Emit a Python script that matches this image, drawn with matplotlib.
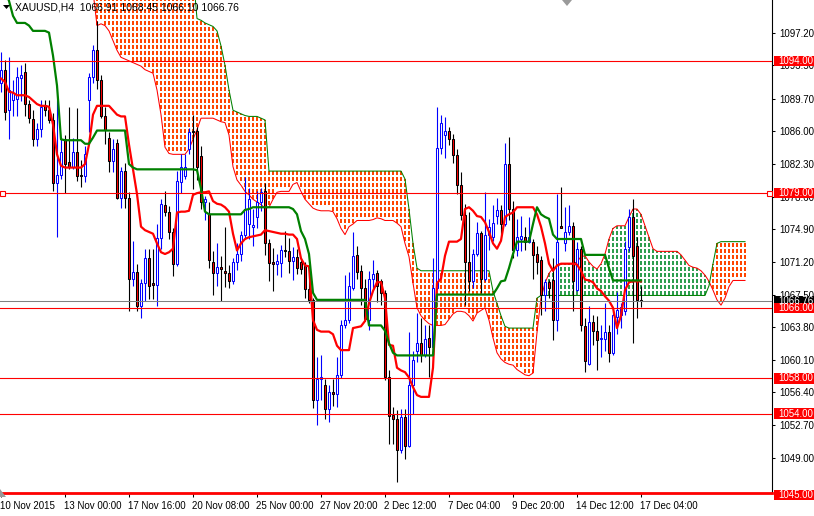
import matplotlib
matplotlib.use("Agg")
import matplotlib.pyplot as plt
import matplotlib.transforms as mtransforms
from matplotlib.collections import PolyCollection
from matplotlib.patches import Polygon, Rectangle
import numpy as np

# Chart look (MT4 style)
BULL_EDGE = '#0000ff'
BULL_FACE = 'white'
BEAR_EDGE = 'black'
BEAR_FACE = '#ff0000'
TENKAN_COLOR = '#ff0000'
KIJUN_COLOR = '#008000'
SPAN_A_COLOR = '#ff0000'
SPAN_B_COLOR = '#008000'
CLOUD_BEAR = '#ff4500'
CLOUD_BULL = '#2e9e4f'
LEVEL_COLOR = '#ff0000'
BID_COLOR = '#808080'
plt.rcParams['font.family'] = ['Liberation Sans', 'DejaVu Sans']
plt.rcParams['font.size'] = 7

W, H = 814, 516
PLOT_RIGHT = 772
PLOT_BOTTOM = 493

# XAUUSD H4 candles, 10 Nov 2015 08:00 .. 17 Dec 2015
opens = [
    1091.5, 1093.0, 1088.4, 1089.6, 1089.7, 1092.0, 1092.7, 1089.1, 1087.4, 1085.1,
    1086.3, 1089.0, 1088.4, 1087.3, 1080.1, 1081.1, 1085.1, 1082.5, 1082.0, 1083.7,
    1081.1, 1080.9, 1089.6, 1092.2, 1095.2, 1091.8, 1087.7, 1085.2, 1082.6, 1084.7,
    1078.4, 1081.5, 1078.4, 1069.3, 1070.1, 1066.2, 1068.8, 1071.6, 1068.8, 1068.6,
    1073.9, 1077.7, 1076.9, 1074.6, 1071.0, 1080.3, 1080.9, 1084.0, 1086.0, 1086.0,
    1083.2, 1078.0, 1076.6, 1071.2, 1069.9, 1070.6, 1070.2, 1069.9, 1069.0, 1071.2,
    1072.1, 1074.2, 1075.5, 1075.2, 1076.3, 1078.0, 1079.2, 1073.3, 1071.2, 1071.0,
    1071.1, 1072.6, 1072.4, 1071.3, 1071.8, 1071.2, 1070.7, 1068.1, 1066.9, 1055.5,
    1057.9, 1057.2, 1054.5, 1056.5, 1056.2, 1058.4, 1064.0, 1064.6, 1068.2, 1072.0,
    1070.2, 1068.3, 1064.6, 1069.3, 1069.9, 1069.0, 1067.7, 1058.2, 1053.8, 1053.4,
    1049.9, 1053.6, 1050.3, 1057.3, 1061.1, 1062.0, 1060.7, 1062.6, 1061.5, 1068.3,
    1084.1, 1085.6, 1086.0, 1085.1, 1083.3, 1079.9, 1076.5, 1071.2, 1069.0, 1072.1,
    1074.5, 1069.3, 1074.2, 1074.0, 1076.4, 1077.1, 1075.5, 1082.3, 1077.2, 1072.5,
    1073.8, 1074.0, 1073.5, 1073.5, 1072.1, 1071.4, 1067.4, 1068.9, 1069.1, 1064.6,
    1075.3, 1073.4, 1074.6, 1075.3, 1068.0, 1072.7, 1063.9, 1059.6, 1064.4, 1063.4,
    1062.5, 1062.5, 1063.3, 1060.9, 1065.0, 1065.2, 1065.6, 1072.9, 1076.3, 1073.0,
    1066.91,
]
highs = [
    1095.0, 1094.1, 1094.4, 1091.8, 1093.3, 1093.5, 1093.7, 1089.6, 1088.4, 1087.0,
    1089.6, 1089.6, 1089.6, 1088.1, 1089.6, 1085.4, 1085.6, 1088.8, 1085.2, 1088.7,
    1082.8, 1084.3, 1092.6, 1095.8, 1098.5, 1092.4, 1088.8, 1085.9, 1085.1, 1085.1,
    1082.0, 1082.4, 1079.1, 1073.6, 1071.0, 1069.3, 1072.7, 1072.7, 1072.7, 1075.5,
    1078.3, 1079.2, 1077.5, 1075.0, 1081.5, 1083.4, 1083.4, 1086.4, 1087.9, 1086.5,
    1084.4, 1078.7, 1078.0, 1072.4, 1073.3, 1071.9, 1075.2, 1070.8, 1071.6, 1073.3,
    1074.7, 1080.8, 1079.6, 1077.2, 1079.2, 1079.6, 1080.2, 1073.8, 1072.8, 1072.1,
    1073.1, 1074.7, 1073.9, 1072.9, 1072.7, 1071.6, 1071.2, 1069.1, 1067.1, 1060.4,
    1060.6, 1057.9, 1057.2, 1057.9, 1060.4, 1064.6, 1069.7, 1070.1, 1074.6, 1073.0,
    1070.8, 1069.3, 1070.2, 1071.4, 1070.3, 1069.3, 1068.0, 1058.9, 1054.7, 1054.4,
    1054.5, 1054.5, 1063.2, 1061.1, 1065.4, 1064.8, 1064.1, 1064.1, 1071.6, 1088.8,
    1087.9, 1087.6, 1086.5, 1085.7, 1084.0, 1081.4, 1077.8, 1076.9, 1072.7, 1075.7,
    1074.7, 1079.1, 1076.1, 1077.6, 1078.5, 1077.6, 1084.7, 1085.4, 1078.1, 1076.1,
    1076.4, 1075.2, 1076.3, 1073.8, 1073.0, 1071.9, 1069.3, 1069.1, 1071.6, 1078.9,
    1079.7, 1077.4, 1077.6, 1075.7, 1073.5, 1073.0, 1064.8, 1066.2, 1065.2, 1065.1,
    1064.0, 1066.5, 1064.0, 1065.6, 1067.8, 1066.5, 1073.6, 1077.2, 1078.3, 1074.0,
    1068.45,
]
lows = [
    1090.5, 1087.3, 1085.1, 1087.7, 1087.7, 1089.5, 1087.7, 1086.9, 1084.3, 1084.3,
    1085.4, 1087.7, 1086.9, 1079.2, 1074.0, 1080.6, 1079.0, 1081.7, 1081.7, 1080.4,
    1079.7, 1080.3, 1085.9, 1091.5, 1090.8, 1087.5, 1084.6, 1081.4, 1081.4, 1078.3,
    1077.3, 1077.3, 1065.6, 1068.5, 1065.6, 1064.8, 1066.8, 1067.0, 1067.0, 1066.2,
    1072.7, 1076.4, 1073.8, 1069.6, 1070.7, 1079.0, 1080.6, 1083.4, 1079.5, 1080.5,
    1077.2, 1075.9, 1070.5, 1067.4, 1068.5, 1066.8, 1068.4, 1068.2, 1068.7, 1070.3,
    1071.3, 1073.8, 1073.8, 1073.0, 1075.1, 1077.0, 1072.0, 1069.0, 1067.9, 1069.7,
    1069.5, 1071.8, 1069.9, 1069.1, 1069.8, 1069.8, 1067.1, 1066.5, 1054.6, 1052.7,
    1055.5, 1053.4, 1053.0, 1054.9, 1054.7, 1058.0, 1063.7, 1064.3, 1068.0, 1069.3,
    1066.3, 1064.5, 1063.5, 1068.2, 1066.7, 1066.3, 1057.8, 1050.5, 1050.5, 1046.3,
    1049.5, 1048.9, 1050.2, 1054.0, 1059.8, 1059.8, 1060.4, 1058.1, 1060.7, 1068.0,
    1083.4, 1083.0, 1084.5, 1082.4, 1078.9, 1075.9, 1066.3, 1067.9, 1068.2, 1071.9,
    1067.7, 1069.0, 1072.5, 1073.6, 1075.5, 1074.4, 1075.3, 1075.9, 1071.7, 1071.9,
    1072.4, 1072.5, 1073.3, 1069.3, 1069.8, 1065.2, 1065.6, 1067.1, 1062.4, 1063.4,
    1075.0, 1072.4, 1074.2, 1065.6, 1067.9, 1063.4, 1058.7, 1059.5, 1061.8, 1059.0,
    1060.4, 1061.1, 1059.9, 1060.6, 1063.0, 1063.7, 1065.2, 1072.4, 1062.0, 1064.8,
    1066.10,
]
closes = [
    1093.0, 1088.2, 1090.7, 1090.3, 1092.2, 1092.4, 1089.1, 1087.5, 1085.1, 1086.3,
    1088.8, 1088.4, 1087.3, 1080.1, 1081.1, 1083.7, 1082.3, 1082.0, 1083.7, 1080.9,
    1080.9, 1083.4, 1092.2, 1095.2, 1091.8, 1087.7, 1086.2, 1082.6, 1084.0, 1078.4,
    1081.5, 1078.4, 1069.3, 1070.1, 1066.2, 1068.8, 1071.7, 1068.5, 1068.6, 1073.9,
    1077.8, 1076.9, 1074.6, 1071.0, 1080.4, 1082.0, 1082.0, 1085.9, 1085.9, 1082.0,
    1078.0, 1078.3, 1071.4, 1069.9, 1070.6, 1070.4, 1069.9, 1069.0, 1071.2, 1072.1,
    1074.2, 1077.2, 1078.3, 1075.4, 1078.0, 1079.1, 1073.3, 1071.1, 1071.0, 1071.3,
    1072.5, 1072.4, 1071.3, 1071.8, 1070.5, 1070.4, 1068.1, 1066.9, 1055.5, 1057.9,
    1058.2, 1054.5, 1056.4, 1056.2, 1058.4, 1064.0, 1064.6, 1068.5, 1071.9, 1070.1,
    1068.3, 1064.7, 1069.3, 1069.8, 1068.5, 1067.7, 1058.1, 1053.7, 1053.4, 1049.9,
    1053.6, 1050.3, 1057.3, 1060.1, 1062.0, 1060.7, 1062.5, 1061.5, 1068.3, 1084.1,
    1086.9, 1086.0, 1085.1, 1083.3, 1079.9, 1076.5, 1071.2, 1069.0, 1072.1, 1074.5,
    1069.3, 1074.2, 1075.2, 1075.6, 1077.1, 1075.5, 1082.3, 1077.2, 1072.5, 1074.0,
    1074.1, 1073.5, 1074.0, 1072.0, 1071.2, 1067.4, 1068.9, 1068.2, 1064.6, 1073.5,
    1075.1, 1074.6, 1075.3, 1069.0, 1072.7, 1064.1, 1060.0, 1064.4, 1063.4, 1062.4,
    1062.6, 1063.3, 1060.9, 1065.2, 1065.8, 1066.1, 1072.7, 1076.3, 1071.9, 1066.9,
    1066.76,
]

# Ichimoku lines (one value per bar)
tenkan = [
    1092.0, 1091.6, 1090.5, 1090.4, 1090.1, 1090.1, 1090.1, 1089.9, 1089.5, 1089.1,
    1088.9, 1088.9, 1088.8, 1086.8, 1083.4, 1082.1, 1081.9, 1081.9, 1081.9, 1081.9,
    1081.9, 1082.3, 1084.5, 1087.9, 1088.9, 1088.9, 1088.9, 1088.9, 1088.4, 1087.9,
    1087.7, 1087.7, 1084.5, 1081.7, 1078.9, 1075.2, 1074.8, 1074.6, 1074.4, 1073.3,
    1072.3, 1072.1, 1072.3, 1072.7, 1076.8, 1076.9, 1076.9, 1077.0, 1078.8, 1079.0,
    1079.1, 1079.1, 1079.2, 1078.1, 1077.8, 1077.7, 1077.4, 1076.9, 1074.4, 1072.5,
    1073.3, 1073.8, 1074.0, 1074.1, 1074.2, 1074.3, 1074.8, 1074.7, 1074.6, 1074.5,
    1074.4, 1074.4, 1074.3, 1074.3, 1073.8, 1071.6, 1070.8, 1070.7, 1064.6, 1063.5,
    1063.3, 1063.3, 1063.3, 1063.0, 1061.7, 1061.2, 1061.2, 1061.2, 1063.7, 1063.8,
    1063.9, 1064.5, 1066.5, 1067.9, 1068.9, 1068.9, 1067.1, 1061.8, 1061.7, 1059.2,
    1058.9, 1058.7, 1058.1, 1057.0, 1056.1, 1055.9, 1055.9, 1055.9, 1059.2, 1068.8,
    1069.3, 1071.9, 1073.5, 1073.5, 1073.5, 1073.8, 1077.2, 1077.4, 1077.0, 1076.4,
    1076.3, 1075.7, 1074.6, 1073.3, 1072.7, 1073.6, 1076.3, 1076.6, 1076.8, 1077.4,
    1077.4, 1077.4, 1077.4, 1077.4, 1076.6, 1075.2, 1073.3, 1071.0, 1070.2, 1070.8,
    1071.0, 1071.0, 1071.0, 1071.0, 1070.9, 1070.2, 1069.2, 1069.1, 1068.9, 1068.2,
    1067.9, 1067.3, 1066.8, 1066.0, 1063.7, 1065.1, 1068.0, 1068.9, 1069.0, 1069.0,
    1069.0,
]
kijun = [
    1103.0, 1101.9, 1100.8, 1099.1, 1098.3, 1098.3, 1098.3, 1098.0, 1097.4, 1097.4,
    1097.4, 1097.4, 1097.2, 1094.6, 1091.2, 1085.1, 1085.0, 1085.0, 1085.0, 1085.0,
    1085.0, 1084.6, 1084.6, 1085.3, 1086.1, 1086.1, 1086.1, 1086.1, 1086.1, 1086.1,
    1086.1, 1086.1, 1082.3, 1081.9, 1081.7, 1081.7, 1081.7, 1081.7, 1081.7, 1081.7,
    1081.7, 1081.7, 1081.7, 1081.7, 1081.7, 1081.7, 1081.7, 1081.7, 1081.7, 1081.6,
    1079.5, 1076.9, 1076.6, 1076.6, 1076.6, 1076.6, 1076.6, 1076.6, 1076.6, 1076.6,
    1076.6, 1077.1, 1077.2, 1077.4, 1077.4, 1077.4, 1077.4, 1077.4, 1077.4, 1077.4,
    1077.4, 1077.4, 1077.4, 1077.2, 1076.6, 1074.7, 1073.8, 1072.1, 1067.7, 1066.9,
    1066.9, 1066.9, 1066.9, 1066.9, 1066.9, 1066.9, 1066.9, 1066.9, 1066.9, 1066.9,
    1066.9, 1066.9, 1064.0, 1064.0, 1064.0, 1064.0, 1063.4, 1062.0, 1060.9, 1060.6,
    1060.6, 1060.6, 1060.6, 1060.6, 1060.6, 1060.6, 1060.6, 1060.6, 1060.6, 1067.5,
    1067.5, 1067.5, 1067.5, 1067.5, 1067.5, 1067.5, 1067.5, 1067.5, 1067.5, 1067.5,
    1067.5, 1067.5, 1067.5, 1067.5, 1068.2, 1069.0, 1069.1, 1070.5, 1072.1, 1073.5,
    1073.5, 1073.5, 1073.5, 1075.5, 1077.4, 1076.6, 1076.3, 1076.1, 1074.3, 1073.8,
    1073.8, 1073.8, 1073.8, 1073.8, 1073.8, 1073.8, 1072.0, 1072.0, 1072.0, 1072.0,
    1072.0, 1072.0, 1070.5, 1069.1, 1069.1, 1069.1, 1069.1, 1069.1, 1069.1, 1069.1,
    1069.1,
]
# Senkou spans, shifted 26 bars ahead (values above 1100.9 are off the top)
span_a = [
    1102.5, 1102.5, 1102.5, 1102.5, 1102.5, 1102.5, 1102.5, 1102.5, 1102.5, 1102.5,
    1102.5, 1102.5, 1102.5, 1102.5, 1102.5, 1102.5, 1102.5, 1102.5, 1102.5, 1102.5,
    1102.5, 1102.5, 1102.5, 1101.9, 1098.0, 1098.2, 1098.0, 1097.4, 1096.3, 1095.2,
    1094.4, 1094.2, 1094.0, 1093.8, 1093.6, 1093.4, 1093.0, 1092.8, 1092.6, 1090.7,
    1087.9, 1084.2, 1083.5, 1083.4, 1083.4, 1083.4, 1083.4, 1084.0, 1085.1, 1086.2,
    1087.5, 1087.5, 1087.5, 1087.5, 1087.3, 1087.1, 1087.0, 1085.6, 1082.0, 1080.5,
    1079.9, 1079.2, 1078.8, 1078.3, 1078.0, 1077.7, 1077.3, 1077.4, 1078.3, 1079.1,
    1079.2, 1079.2, 1079.2, 1080.0, 1080.2, 1079.2, 1078.3, 1077.8, 1077.3, 1077.1,
    1077.0, 1077.0, 1077.0, 1076.9, 1076.1, 1075.0, 1074.3, 1075.2, 1075.5, 1075.9,
    1075.9, 1075.9, 1075.9, 1076.0, 1076.2, 1076.1, 1075.9, 1075.9, 1075.9, 1075.6,
    1075.2, 1073.3, 1071.8, 1068.8, 1066.0, 1065.1, 1064.6, 1064.2, 1064.0, 1064.0,
    1064.0, 1064.1, 1064.7, 1065.3, 1065.6, 1065.6, 1065.5, 1065.1, 1064.5, 1065.4,
    1065.7, 1066.0, 1064.6, 1062.6, 1060.9, 1060.2, 1059.8, 1059.6, 1059.5, 1059.0,
    1058.7, 1058.4, 1058.3, 1058.6, 1063.2, 1067.1, 1068.8, 1069.9, 1070.5, 1070.7,
    1071.0, 1071.0, 1071.0, 1071.0, 1071.2, 1071.8, 1071.9, 1071.2, 1070.7, 1070.4,
    1071.0, 1072.1, 1073.8, 1075.0, 1075.3, 1075.3, 1075.3, 1076.3, 1077.2, 1077.2,
    1076.6, 1075.3, 1074.0, 1072.7, 1072.4, 1072.4, 1072.4, 1072.4, 1072.4, 1072.4,
    1072.0, 1071.4, 1070.8, 1070.6, 1070.5, 1070.2, 1069.7, 1069.0, 1068.0, 1066.9,
    1066.3, 1067.1, 1068.4, 1069.1, 1069.1, 1069.1, 1069.1,
]
span_b = [
    1104.0, 1104.0, 1104.0, 1104.0, 1104.0, 1104.0, 1104.0, 1104.0, 1104.0, 1104.0,
    1104.0, 1104.0, 1104.0, 1104.0, 1104.0, 1104.0, 1104.0, 1104.0, 1104.0, 1104.0,
    1104.0, 1104.0, 1104.0, 1104.0, 1104.0, 1104.0, 1104.0, 1104.0, 1104.0, 1104.0,
    1104.0, 1104.0, 1104.0, 1104.0, 1104.0, 1104.0, 1104.0, 1104.0, 1104.0, 1104.0,
    1104.0, 1104.0, 1104.0, 1104.0, 1104.0, 1104.0, 1104.0, 1104.0, 1104.0, 1098.8,
    1098.6, 1098.3, 1098.1, 1097.9, 1097.4, 1095.7, 1093.5, 1090.7, 1088.4, 1088.2,
    1088.0, 1087.8, 1087.7, 1087.7, 1087.7, 1087.5, 1087.3, 1081.5, 1081.5, 1081.5,
    1081.5, 1081.5, 1081.5, 1081.5, 1081.5, 1081.5, 1081.5, 1081.5, 1081.5, 1081.5,
    1081.5, 1081.5, 1081.5, 1081.5, 1081.5, 1081.5, 1081.5, 1081.5, 1081.5, 1081.5,
    1081.5, 1081.5, 1081.5, 1081.5, 1081.5, 1081.5, 1081.5, 1081.5, 1081.5, 1081.5,
    1081.5, 1080.6, 1077.2, 1073.3, 1070.5, 1070.2, 1070.2, 1070.2, 1070.2, 1070.2,
    1070.2, 1070.2, 1070.2, 1070.2, 1070.2, 1070.2, 1070.2, 1070.2, 1070.2, 1070.2,
    1070.2, 1070.2, 1070.2, 1067.9, 1066.5, 1065.1, 1063.9, 1063.7, 1063.7, 1063.7,
    1063.7, 1063.7, 1063.7, 1063.7, 1067.1, 1067.4, 1067.4, 1067.4, 1067.4, 1067.4,
    1067.4, 1067.4, 1067.4, 1067.4, 1067.4, 1067.4, 1067.4, 1067.4, 1067.4, 1067.4,
    1067.4, 1067.4, 1067.4, 1067.4, 1067.4, 1067.4, 1067.4, 1067.4, 1067.4, 1067.4,
    1067.4, 1067.4, 1067.4, 1067.4, 1067.4, 1067.4, 1067.4, 1067.4, 1067.4, 1067.4,
    1067.4, 1067.4, 1067.4, 1067.4, 1067.4, 1067.4, 1067.4, 1068.5, 1071.0, 1073.3,
    1073.5, 1073.5, 1073.5, 1073.5, 1073.5, 1073.5, 1073.5,
]

# Horizontal levels and axis labels
levels = [1094.0, 1079.0, 1066.0, 1058.0, 1054.0]
bottom_level = 1045.0
bid = 1066.76
price_ticks = [1049.00, 1052.70, 1056.40, 1060.10, 1063.80, 1067.50, 1071.20,
               1074.90, 1078.60, 1082.30, 1086.00, 1089.70, 1093.50, 1097.20]
time_tick_bars = [0, 16, 32, 48, 64, 80, 96, 112, 128, 144, 160]
time_tick_labels = ['10 Nov 2015', '13 Nov 00:00', '17 Nov 16:00', '20 Nov 08:00',
                    '25 Nov 00:00', '27 Nov 20:00', '2 Dec 12:00', '7 Dec 04:00',
                    '9 Dec 20:00', '14 Dec 12:00', '17 Dec 04:00']
header = 'XAUUSD,H4  1066.91 1068.45 1066.10 1066.76'

Y_MIN, Y_MAX = 1045.0, 1100.9
px_per_unit = PLOT_BOTTOM / (Y_MAX - Y_MIN)

fig = plt.figure(figsize=(W / 100, H / 100), dpi=100)
fig.patch.set_facecolor('white')
ax = fig.add_axes([0, (H - PLOT_BOTTOM) / H, PLOT_RIGHT / W, PLOT_BOTTOM / H])
ax.set_facecolor('white')
ax.set_xlim(-0.25, -0.25 + PLOT_RIGHT / 4)
ax.set_ylim(Y_MIN, Y_MAX)

# cloud hatch: dotted vertical stroke per bar between the spans,
# drawn as tiny filled rectangles so the colour stays solid
a = np.array(span_a)
b = np.array(span_b)
step = 6 / px_per_unit
dash = 3.6 / px_per_unit
half_w = 0.16
rects_bear, rects_bull = [], []
for i in range(len(a)):
    low_s, high_s = min(a[i], b[i]), max(a[i], b[i])
    yd = Y_MIN + np.ceil((low_s - Y_MIN) / step) * step
    target = rects_bear if b[i] >= a[i] else rects_bull
    while yd < min(high_s, Y_MAX + step):
        top = min(yd + dash, high_s)
        target.append([(i - half_w, yd), (i + half_w, yd), (i + half_w, top), (i - half_w, top)])
        yd += step
ax.add_collection(PolyCollection(rects_bear, facecolors=CLOUD_BEAR, edgecolors='none',
                                 antialiaseds=False, zorder=1))
ax.add_collection(PolyCollection(rects_bull, facecolors=CLOUD_BULL, edgecolors='none',
                                 antialiaseds=False, zorder=1))
ci = np.arange(len(a))
ax.plot(ci, a, color=SPAN_A_COLOR, linewidth=0.75, zorder=2)
ax.plot(ci, b, color=SPAN_B_COLOR, linewidth=0.75, zorder=2)

# candles
o = np.array(opens)
hi = np.array(highs)
lo = np.array(lows)
c = np.array(closes)
x = np.arange(len(o))
up = c >= o
ax.vlines(x[up], lo[up], hi[up], colors=BULL_EDGE, linewidth=0.8, zorder=3)
ax.vlines(x[~up], lo[~up], hi[~up], colors=BEAR_EDGE, linewidth=0.8, zorder=3)
body_lo = np.minimum(o, c)
body_h = np.maximum(np.abs(c - o), 0.08)
ax.bar(x[up], body_h[up], bottom=body_lo[up], width=0.62, color=BULL_FACE,
       edgecolor=BULL_EDGE, linewidth=0.75, zorder=4)
ax.bar(x[~up], body_h[~up], bottom=body_lo[~up], width=0.62, color=BEAR_FACE,
       edgecolor=BEAR_EDGE, linewidth=0.75, zorder=4)

# tenkan / kijun
ax.plot(x, tenkan, color=TENKAN_COLOR, linewidth=1.6, zorder=5)
ax.plot(x, kijun, color=KIJUN_COLOR, linewidth=1.6, zorder=5)

# bid line and levels
ax.axhline(bid, color=BID_COLOR, linewidth=0.75, zorder=6)
for lv in levels:
    ax.axhline(lv, color=LEVEL_COLOR, linewidth=0.8, zorder=7)
ax.axhline(bottom_level, color=LEVEL_COLOR, linewidth=2.0, zorder=7, clip_on=False)
# selection handles on the 1079 line
ax.plot([0.35, 191.9], [levels[1], levels[1]], linestyle='none', marker='s',
        markersize=3.6, markerfacecolor='white', markeredgecolor=LEVEL_COLOR,
        markeredgewidth=0.8, zorder=8, clip_on=False)

# axes frame
for side in ('left', 'top'):
    ax.spines[side].set_visible(False)
for side in ('right', 'bottom'):
    ax.spines[side].set_color('black')
    ax.spines[side].set_linewidth(0.8)
ax.yaxis.tick_right()
ax.set_yticks(price_ticks)
ax.set_yticklabels([f'{v:.2f}' for v in price_ticks])
ax.tick_params(axis='y', length=2.5, width=0.75, pad=2.5, labelsize=7, colors='black')
ax.set_xticks(time_tick_bars)
ax.set_xticklabels([])
ax.tick_params(axis='x', length=3, width=0.75, colors='black')

# time labels, left aligned at their ticks
xt = mtransforms.blended_transform_factory(ax.transData, ax.transAxes)
for tb, tl in zip(time_tick_bars, time_tick_labels):
    ax.text(tb - 0.3, -13 / PLOT_BOTTOM, tl, transform=xt, ha='left', va='center',
            fontsize=7, clip_on=False)

# price tags on the right scale
yt = mtransforms.blended_transform_factory(fig.transFigure, ax.transData)


def price_tag(price, face, y_price=None):
    yp = price if y_price is None else y_price
    hgt = 10.5 / px_per_unit
    ax.add_patch(Rectangle((773.5 / W, yp - hgt / 2), 41 / W, hgt, transform=yt,
                           facecolor=face, edgecolor='none', clip_on=False, zorder=10))
    ax.text(778.5 / W, yp, f'{price:.2f}', transform=yt, color='white', fontsize=7,
            ha='left', va='center', clip_on=False, zorder=11)


price_tag(bid, 'black')
for lv in levels:
    price_tag(lv, LEVEL_COLOR)
price_tag(bottom_level, LEVEL_COLOR, y_price=bottom_level - 0.25)

# header and little chart markers
fig.text(15 / W, 1 - 7.5 / H, header, fontsize=7.5, ha='left', va='center')


def px(pts):
    return [(u / W, 1 - v / H) for u, v in pts]


fig.patches.append(Polygon(px([(3, 5), (10, 5), (6.5, 9)]), closed=True,
                           facecolor='black', edgecolor='none', transform=fig.transFigure))
fig.patches.append(Polygon(px([(562, 0), (572, 0), (567, 6)]), closed=True,
                           facecolor='#9a9a9a', edgecolor='none', transform=fig.transFigure))
fig.patches.append(Polygon(px([(0, 489), (0, 497), (6, 497)]), closed=True,
                           facecolor='#9a9a9a', edgecolor='none', transform=fig.transFigure))

fig.savefig('out.png', dpi=100, facecolor='white')
